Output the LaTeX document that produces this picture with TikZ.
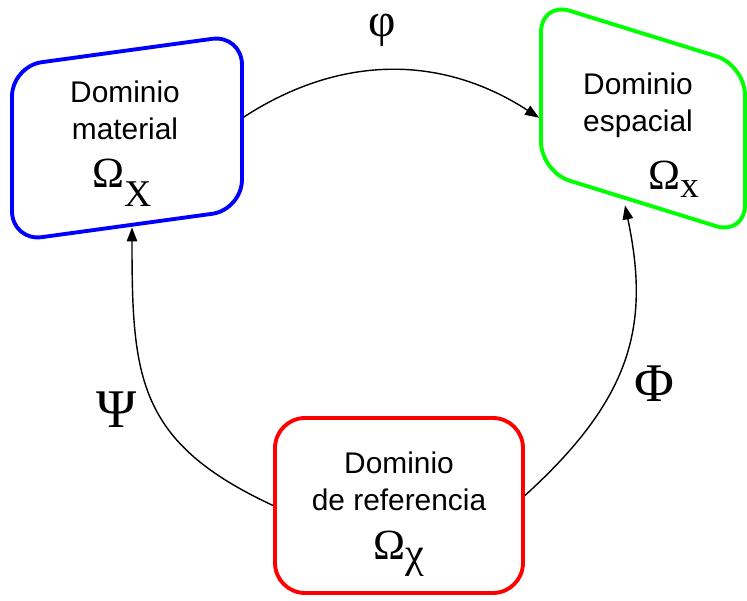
\documentclass[tikz,border=0pt]{standalone}
\usepackage{fontspec}
\setmainfont{Liberation Sans}
\newfontfamily\greekfont{Liberation Serif}
\usetikzlibrary{arrows.meta}
\definecolor{DomBlue}{RGB}{0,0,255}
\definecolor{DomGreen}{RGB}{0,255,0}
\definecolor{DomRed}{RGB}{255,0,0}
% Omega with a lowered index: #1 index, #2 drop, #3 index size
\newcommand{\omegasub}[3]{{\greekfont\fontsize{24.5}{24.5}\selectfont Ω\raisebox{-#2}{\fontsize{#3}{#3}\selectfont #1}}}

\begin{document}
\begin{tikzpicture}[x=0.02cm, y=0.02cm,
          dbox/.style={draw, line width=2.2pt, rounded corners=0.6cm, inner sep=0pt},
          dtext/.style={align=center, font=\fontsize{17}{21}\selectfont, inner sep=0pt},
          glabel/.style={font=\greekfont\fontsize{31}{31}\selectfont, inner sep=0pt},
          arr/.style={-{Triangle[length=8pt, width=6pt]}, line width=0.8pt}
        ]
        \useasboundingbox (0,0) rectangle (747,601);

        % Material domain
        \node[dbox, draw=DomBlue, minimum width=4.6cm, minimum height=3.5cm, yslant=0.137]
              (mat) at (127,463) {};
        \node[dtext] (mattext) at (125,491) {Dominio\\material};
        \node[anchor=base west, inner sep=0pt] (matsym) at (92,413) {\omegasub{X}{10.8pt}{21.5}};

        % Spatial domain
        \node[dbox, draw=DomGreen, minimum width=4.08cm, minimum height=3.4cm, yslant=-0.31]
              (esp) at (643,482.5) {};
        \node[dtext] (esptext) at (638,496) {Dominio\\espacial};
        \node[anchor=base west, inner sep=0pt] (espsym) at (648,411) {\omegasub{x}{4.5pt}{21}};

        % Reference domain
        \node[dbox, draw=DomRed, minimum width=4.96cm, minimum height=3.5cm]
              (ref) at (399,95.5) {};
        \node[dtext] (reftext) at (399,120) {Dominio\\de referencia};
        \node[anchor=base west, inner sep=0pt] (refsym) at (373,41) {\omegasub{χ}{4.5pt}{24}};

        % Mappings
        \draw[arr] ([yshift=0.1cm]mat.east) to[out=33, in=147] ([yshift=-0.63cm]esp.west);
        \draw[arr] (ref.west) .. controls +(-136,63) and +(0,-150) .. ([xshift=0.1cm]mat.south);
        \draw[arr] ([yshift=0.2cm]ref.east) .. controls +(108,98) and +(25,-119)
              .. ([xshift=-0.36cm]esp.south);

        \node[glabel, font=\greekfont\fontsize{27}{27}\selectfont] (phi) at (382,571) {φ};
        \node[glabel] (bigphi) at (654,217) {Φ};
        \node[glabel] (psi) at (117,191) {Ψ};
      \end{tikzpicture}
\end{document}
